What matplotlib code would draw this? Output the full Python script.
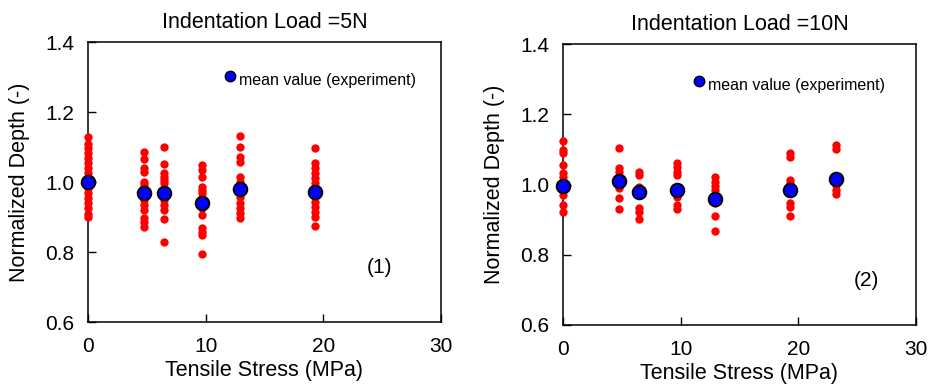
import matplotlib
matplotlib.use('Agg')
import matplotlib.pyplot as plt

plt.rcParams['font.family'] = ['Liberation Sans', 'DejaVu Sans']

# panel 1: indentation load 5 N
stress_5n = [0.0, 4.8, 6.5, 9.7, 12.9, 19.3]
depth_5n = [
    [1.128, 1.109, 1.096, 1.082, 1.068, 1.053, 1.039, 1.025, 1.010, 0.996,
     0.982, 0.968, 0.953, 0.939, 0.925, 0.910, 0.899],
    [1.087, 1.065, 1.039, 1.029, 1.001, 0.991, 0.968, 0.949, 0.934, 0.920,
     0.896, 0.887, 0.872],
    [1.101, 1.051, 1.025, 1.015, 1.006, 0.996, 0.977, 0.968, 0.949, 0.934,
     0.920, 0.893, 0.828],
    [1.049, 1.034, 1.013, 0.987, 0.977, 0.968, 0.953, 0.925, 0.906, 0.868,
     0.858, 0.849, 0.794],
    [1.131, 1.101, 1.072, 1.058, 1.015, 1.001, 0.987, 0.972, 0.958, 0.939,
     0.925, 0.911, 0.896],
    [1.096, 1.053, 1.039, 1.025, 1.011, 0.996, 0.987, 0.958, 0.944, 0.930,
     0.915, 0.901, 0.874],
]
mean_5n = [1.001, 0.968, 0.968, 0.939, 0.979, 0.972]

# panel 2: indentation load 10 N
stress_10n = [0.0, 4.8, 6.5, 9.7, 12.9, 19.3, 23.2]
depth_10n = [
    [1.125, 1.098, 1.089, 1.056, 1.032, 1.022, 0.970, 0.942, 0.923],
    [1.103, 1.046, 1.036, 1.013, 0.989, 0.961, 0.930],
    [1.036, 1.027, 0.994, 0.980, 0.932, 0.923, 0.901],
    [1.062, 1.051, 1.036, 1.027, 0.984, 0.965, 0.942, 0.929],
    [1.020, 1.008, 0.996, 0.984, 0.970, 0.948, 0.910, 0.868],
    [1.089, 1.077, 1.013, 1.003, 0.984, 0.946, 0.935, 0.910],
    [1.112, 1.100, 0.999, 0.984, 0.973],
]
mean_10n = [0.997, 1.011, 0.978, 0.984, 0.958, 0.984, 1.015]

titles = ['Indentation Load =5N', 'Indentation Load =10N']
tags = ['(1)', '(2)']

fig = plt.figure(figsize=(9.29, 3.86), dpi=100)
ax1 = fig.add_axes([88 / 929, 64 / 386, 353 / 929, 280 / 386])
ax2 = fig.add_axes([563 / 929, 61 / 386, 353 / 929, 281 / 386])

panels = [
    (ax1, stress_5n, depth_5n, mean_5n, (12.07, 1.303), (24.8, 0.757)),
    (ax2, stress_10n, depth_10n, mean_10n, (11.58, 1.296), (25.8, 0.728)),
]

for i, (ax, xs, ys, ms, leg, tag) in enumerate(panels):
    for x, col in zip(xs, ys):
        ax.plot([x] * len(col), col, 'o', color='red', markersize=6,
                markeredgewidth=0, zorder=3, clip_on=False)
    ax.plot(xs, ms, 'o', color='blue', markersize=9.8, markeredgecolor='black',
            markeredgewidth=1.4, linestyle='none', zorder=4, clip_on=False)

    ax.plot([leg[0]], [leg[1]], 'o', color='blue', markersize=7.5,
            markeredgecolor='black', markeredgewidth=1.0, zorder=3)
    ax.text(leg[0] + 0.75, leg[1] - 0.013, 'mean value (experiment)', fontsize=11.5,
            va='center', ha='left')
    ax.text(tag[0], tag[1], tags[i], fontsize=15, ha='center', va='center')

    ax.set_xlim(0, 30)
    ax.set_ylim(0.6, 1.4)
    ax.set_xticks([0, 10, 20, 30])
    ax.set_yticks([0.6, 0.8, 1.0, 1.2, 1.4])
    ax.set_yticklabels(['0.6', '0.8', '1.0', '1.2', '1.4'])
    ax.tick_params(axis='x', pad=11)
    ax.tick_params(axis='y', pad=10)
    ax.tick_params(direction='in', length=6, width=1, labelsize=15,
                   top=False, right=False)
    for s in ax.spines.values():
        s.set_linewidth(1.1)
    ax.set_xlabel('Tensile Stress (MPa)', fontsize=15.5, labelpad=3)
    ax.set_ylabel('Normalized Depth (-)', fontsize=15.5, labelpad=11)
    ax.set_title(titles[i], fontsize=15.5, pad=10)

fig.savefig('out.png', dpi=100)
